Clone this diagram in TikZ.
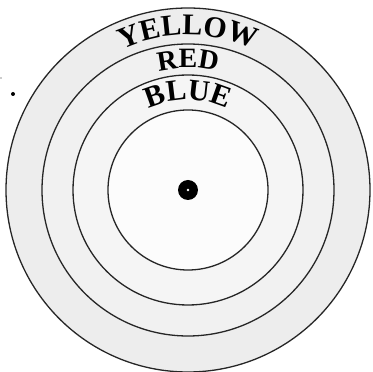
\documentclass[tikz,border=0pt]{standalone}
\usepackage{fontspec}
\setmainfont{Liberation Serif}
\usetikzlibrary{decorations.text,calc}
\newcommand\fontY{\fontsize{30pt}{30pt}\selectfont\bfseries}
\newcommand\fontR{\fontsize{28pt}{28pt}\selectfont\bfseries}
\newcommand\fontB{\fontsize{30pt}{30pt}\selectfont\bfseries}
\tikzset{
  ring/.style={draw=black!85, line width=1.3pt},
  ringlabel/.style={decorate, decoration={text along path, text align=center, text={#1}}}
}
\begin{document}
\begin{tikzpicture}[x=1pt,y=1pt]
\useasboundingbox (0,0) rectangle (373,372);
\fill[white] (0,0) rectangle (373,372);
\coordinate (c) at (188,182);
\fill[gray!14] (c) circle[radius=182];
\fill[gray!11] (c) circle[radius=146];
\fill[gray!8] (c) circle[radius=115];
\fill[gray!2] (c) circle[radius=80];
\draw[ring] (c) circle[radius=182];
\draw[ring] (c) circle[radius=146];
\draw[ring] (c) circle[radius=115];
\draw[ring] (c) circle[radius=80];
\fill[black] (c) circle[radius=10];
\fill[white] (c) circle[radius=1.3];
\path[ringlabel={|\fontY|YELLOW}] ($(c)+(150:155)$) arc[start angle=150, end angle=30, radius=155];
\path[ringlabel={|\fontR|RED}] ($(c)+(140:122)$) arc[start angle=140, end angle=40, radius=122];
\path[ringlabel={|\fontB|BLUE}] ($(c)+(140:90)$) arc[start angle=140, end angle=40, radius=90];
\fill[black] (13,278) circle[radius=2];
\fill[black!40] (1,294) circle[radius=0.9];
\end{tikzpicture}
\end{document}
